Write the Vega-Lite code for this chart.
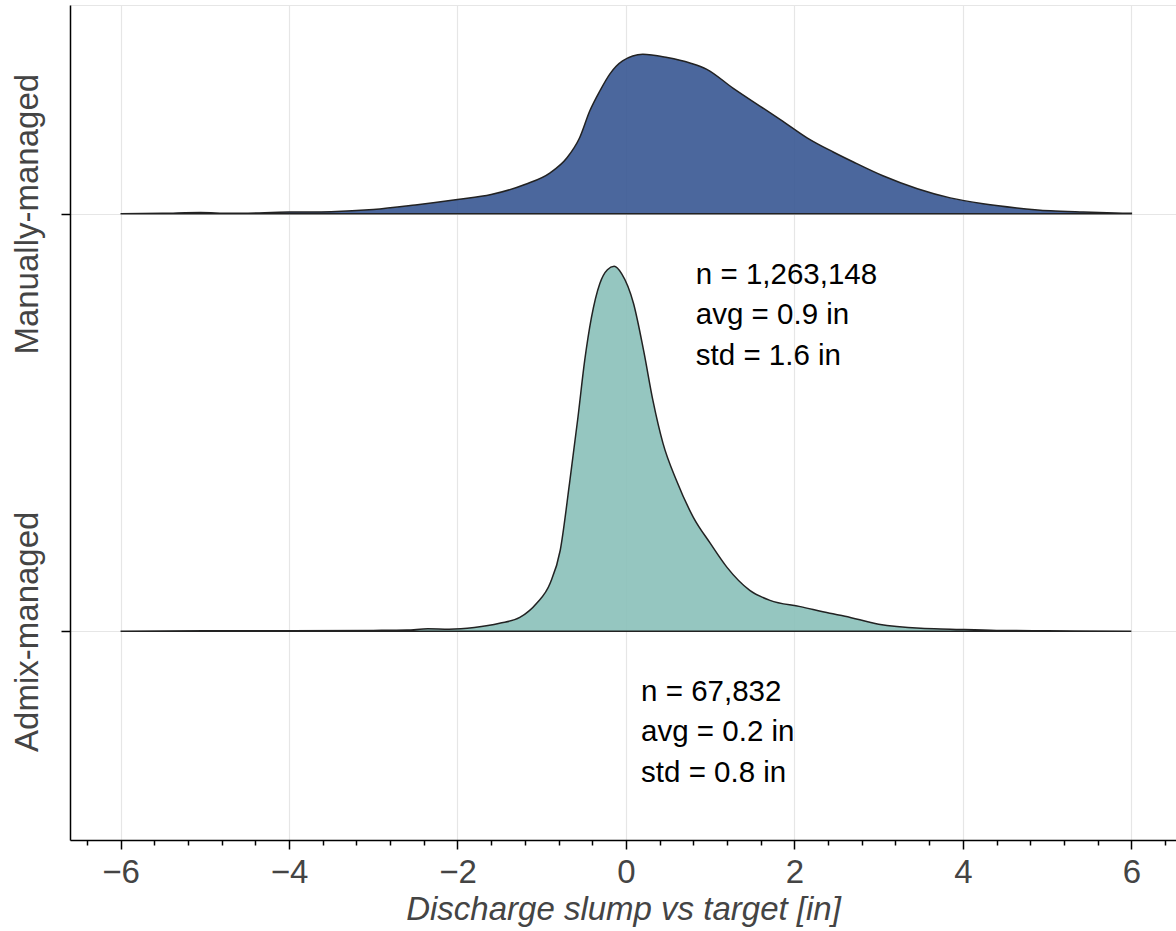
{
  "$schema": "https://vega.github.io/schema/vega-lite/v6.json",
  "width": 1106,
  "height": 835,
  "autosize": "none",
  "padding": {"left": 70, "top": 5, "right": 0, "bottom": 91},
  "config": {"view": {"stroke": null}, "font": "Liberation Sans"},
  "datasets": {
    "ridges": [
      {"group": "Manually-managed", "slump": -6.0, "base": 1, "top": 1.000},
      {"group": "Manually-managed", "slump": -5.5, "base": 1, "top": 1.001},
      {"group": "Manually-managed", "slump": -5.05, "base": 1, "top": 1.003},
      {"group": "Manually-managed", "slump": -4.7, "base": 1, "top": 1.001},
      {"group": "Manually-managed", "slump": -4.0, "base": 1, "top": 1.004},
      {"group": "Manually-managed", "slump": -3.5, "base": 1, "top": 1.005},
      {"group": "Manually-managed", "slump": -3.0, "base": 1, "top": 1.010},
      {"group": "Manually-managed", "slump": -2.5, "base": 1, "top": 1.021},
      {"group": "Manually-managed", "slump": -2.0, "base": 1, "top": 1.034},
      {"group": "Manually-managed", "slump": -1.6, "base": 1, "top": 1.046},
      {"group": "Manually-managed", "slump": -1.2, "base": 1, "top": 1.070},
      {"group": "Manually-managed", "slump": -0.9, "base": 1, "top": 1.098},
      {"group": "Manually-managed", "slump": -0.7, "base": 1, "top": 1.134},
      {"group": "Manually-managed", "slump": -0.55, "base": 1, "top": 1.182},
      {"group": "Manually-managed", "slump": -0.43, "base": 1, "top": 1.246},
      {"group": "Manually-managed", "slump": -0.31, "base": 1, "top": 1.294},
      {"group": "Manually-managed", "slump": -0.19, "base": 1, "top": 1.335},
      {"group": "Manually-managed", "slump": -0.04, "base": 1, "top": 1.366},
      {"group": "Manually-managed", "slump": 0.2, "base": 1, "top": 1.382},
      {"group": "Manually-managed", "slump": 0.49, "base": 1, "top": 1.374},
      {"group": "Manually-managed", "slump": 0.76, "base": 1, "top": 1.361},
      {"group": "Manually-managed", "slump": 0.96, "base": 1, "top": 1.346},
      {"group": "Manually-managed", "slump": 1.27, "base": 1, "top": 1.301},
      {"group": "Manually-managed", "slump": 1.59, "base": 1, "top": 1.258},
      {"group": "Manually-managed", "slump": 1.86, "base": 1, "top": 1.222},
      {"group": "Manually-managed", "slump": 2.15, "base": 1, "top": 1.182},
      {"group": "Manually-managed", "slump": 2.46, "base": 1, "top": 1.148},
      {"group": "Manually-managed", "slump": 2.7, "base": 1, "top": 1.124},
      {"group": "Manually-managed", "slump": 3.05, "base": 1, "top": 1.091},
      {"group": "Manually-managed", "slump": 3.46, "base": 1, "top": 1.060},
      {"group": "Manually-managed", "slump": 3.85, "base": 1, "top": 1.038},
      {"group": "Manually-managed", "slump": 4.24, "base": 1, "top": 1.024},
      {"group": "Manually-managed", "slump": 4.64, "base": 1, "top": 1.014},
      {"group": "Manually-managed", "slump": 5.04, "base": 1, "top": 1.007},
      {"group": "Manually-managed", "slump": 5.43, "base": 1, "top": 1.004},
      {"group": "Manually-managed", "slump": 6.0, "base": 1, "top": 1.001},
      {"group": "Admix-managed", "slump": -6.0, "base": 0, "top": 0.000},
      {"group": "Admix-managed", "slump": -5.0, "base": 0, "top": 0.001},
      {"group": "Admix-managed", "slump": -4.0, "base": 0, "top": 0.001},
      {"group": "Admix-managed", "slump": -3.0, "base": 0, "top": 0.002},
      {"group": "Admix-managed", "slump": -2.6, "base": 0, "top": 0.003},
      {"group": "Admix-managed", "slump": -2.35, "base": 0, "top": 0.006},
      {"group": "Admix-managed", "slump": -2.1, "base": 0, "top": 0.005},
      {"group": "Admix-managed", "slump": -1.8, "base": 0, "top": 0.009},
      {"group": "Admix-managed", "slump": -1.5, "base": 0, "top": 0.019},
      {"group": "Admix-managed", "slump": -1.26, "base": 0, "top": 0.033},
      {"group": "Admix-managed", "slump": -1.06, "base": 0, "top": 0.067},
      {"group": "Admix-managed", "slump": -0.9, "base": 0, "top": 0.115},
      {"group": "Admix-managed", "slump": -0.78, "base": 0, "top": 0.194},
      {"group": "Admix-managed", "slump": -0.67, "base": 0, "top": 0.354},
      {"group": "Admix-managed", "slump": -0.57, "base": 0, "top": 0.512},
      {"group": "Admix-managed", "slump": -0.49, "base": 0, "top": 0.648},
      {"group": "Admix-managed", "slump": -0.41, "base": 0, "top": 0.751},
      {"group": "Admix-managed", "slump": -0.31, "base": 0, "top": 0.833},
      {"group": "Admix-managed", "slump": -0.22, "base": 0, "top": 0.866},
      {"group": "Admix-managed", "slump": -0.14, "base": 0, "top": 0.874},
      {"group": "Admix-managed", "slump": -0.05, "base": 0, "top": 0.856},
      {"group": "Admix-managed", "slump": 0.09, "base": 0, "top": 0.785},
      {"group": "Admix-managed", "slump": 0.21, "base": 0, "top": 0.672},
      {"group": "Admix-managed", "slump": 0.32, "base": 0, "top": 0.553},
      {"group": "Admix-managed", "slump": 0.44, "base": 0, "top": 0.450},
      {"group": "Admix-managed", "slump": 0.6, "base": 0, "top": 0.361},
      {"group": "Admix-managed", "slump": 0.8, "base": 0, "top": 0.273},
      {"group": "Admix-managed", "slump": 1.0, "base": 0, "top": 0.211},
      {"group": "Admix-managed", "slump": 1.2, "base": 0, "top": 0.153},
      {"group": "Admix-managed", "slump": 1.47, "base": 0, "top": 0.098},
      {"group": "Admix-managed", "slump": 1.71, "base": 0, "top": 0.074},
      {"group": "Admix-managed", "slump": 2.07, "base": 0, "top": 0.059},
      {"group": "Admix-managed", "slump": 2.42, "base": 0, "top": 0.043},
      {"group": "Admix-managed", "slump": 2.6, "base": 0, "top": 0.036},
      {"group": "Admix-managed", "slump": 3.0, "base": 0, "top": 0.017},
      {"group": "Admix-managed", "slump": 3.5, "base": 0, "top": 0.007},
      {"group": "Admix-managed", "slump": 3.85, "base": 0, "top": 0.005},
      {"group": "Admix-managed", "slump": 4.4, "base": 0, "top": 0.002},
      {"group": "Admix-managed", "slump": 5.0, "base": 0, "top": 0.001},
      {"group": "Admix-managed", "slump": 6.0, "base": 0, "top": 0.000}
    ],
    "notes": [
      {"slump": 0.83, "top": 0.832, "label": "n = 1,263,148\navg = 0.9 in\nstd = 1.6 in"},
      {"slump": 0.18, "top": -0.167, "label": "n = 67,832\navg = 0.2 in\nstd = 0.8 in"}
    ]
  },
  "layer": [
    {
      "data": {"name": "ridges"},
      "mark": {"type": "area", "interpolate": "monotone", "stroke": "#222222", "strokeWidth": 1.5, "fillOpacity": 0.9},
      "encoding": {
        "x": {
          "field": "slump", "type": "quantitative",
          "scale": {"domain": [-6.6, 6.53], "nice": false, "zero": false},
          "axis": {
            "values": [-6.4, -6, -5.6, -5.2, -4.8, -4.4, -4, -3.6, -3.2, -2.8, -2.4, -2, -1.6, -1.2, -0.8, -0.4, 0, 0.4, 0.8, 1.2, 1.6, 2, 2.4, 2.8, 3.2, 3.6, 4, 4.4, 4.8, 5.2, 5.6, 6, 6.4],
            "tickCount": 200,
            "labelExpr": "abs(datum.value % 2) < 0.001 ? format(datum.value, 'd') : ''",
            "labelOverlap": false,
            "labelFlush": false,
            "labelFontSize": 33,
            "labelColor": "#444444",
            "labelPadding": 7,
            "tickSize": {"condition": {"test": "abs(datum.value % 2) < 0.001", "value": 9}, "value": 5},
            "tickColor": "#000000",
            "tickWidth": 1.5,
            "domainColor": "#000000",
            "domainWidth": 1.5,
            "grid": true,
            "gridColor": "#e6e6e6",
            "gridWidth": 1.2,
            "gridOpacity": {"condition": {"test": "abs(datum.value % 2) < 0.001", "value": 1}, "value": 0},
            "title": "Discharge slump vs target [in]",
            "titleFontSize": 33,
            "titleFontStyle": "italic",
            "titleFontWeight": "normal",
            "titleColor": "#444444",
            "titlePadding": 4
          }
        },
        "y": {
          "field": "top", "type": "quantitative",
          "scale": {"domain": [-0.5, 1.5], "nice": false, "zero": false},
          "axis": {
            "values": [0, 1, 1.5],
            "tickCount": 50,
            "labelExpr": "datum.value == 1 ? 'Manually-managed' : (datum.value == 0 ? 'Admix-managed' : '')",
            "labelAngle": -90,
            "labelAlign": "center",
            "labelBaseline": "bottom",
            "labelFontSize": 33,
            "labelColor": "#444444",
            "labelPadding": 17,
            "labelLimit": 0,
            "labelOverlap": false,
            "labelFlush": false,
            "tickSize": 9,
            "tickColor": "#000000",
            "tickWidth": 1.5,
            "tickOpacity": {"condition": {"test": "datum.value > 1.2", "value": 0}, "value": 1},
            "domainColor": "#000000",
            "domainWidth": 1.5,
            "grid": true,
            "gridColor": "#e6e6e6",
            "gridWidth": 1.2,
            "title": null
          }
        },
        "y2": {"field": "base"},
        "color": {
          "field": "group", "type": "nominal",
          "scale": {"domain": ["Manually-managed", "Admix-managed"], "range": ["#375692", "#8ac0b9"]},
          "legend": null
        }
      }
    },
    {
      "data": {"name": "notes"},
      "mark": {"type": "text", "align": "left", "baseline": "alphabetic", "fontSize": 29.5, "lineBreak": "\n", "lineHeight": 40.5, "color": "#000000"},
      "encoding": {
        "x": {"field": "slump", "type": "quantitative"},
        "y": {"field": "top", "type": "quantitative"},
        "text": {"field": "label"}
      }
    }
  ]
}
